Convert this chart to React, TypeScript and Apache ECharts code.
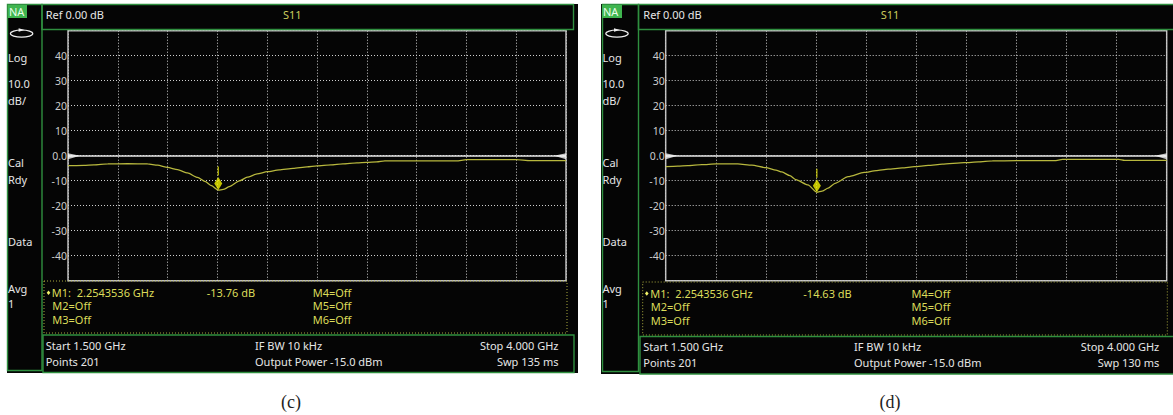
import React, { useEffect, useRef } from 'react';
import * as echarts from 'echarts';

// ---- axis ranges ----
const freqStartGHz = 1.5;
const freqStopGHz = 4.0;
const freqDivGHz = 0.25;
const dbMin = -50;
const dbMax = 50;
const dbDiv = 10;

// ---- panel (c) trace ----
const freqC = [1.5, 1.58, 1.63, 1.7, 1.8, 1.9, 1.95, 2.0, 2.05, 2.1, 2.15, 2.19, 2.22, 2.2543536, 2.28, 2.31, 2.36, 2.4, 2.45, 2.5, 2.56, 2.63, 2.7, 2.75, 2.82, 2.88, 2.95, 3.0, 3.05, 3.09, 3.25, 3.45, 3.5, 3.75, 3.82, 4.0];
const s11C = [-4.0, -3.9, -3.7, -3.3, -3.2, -3.3, -3.8, -4.7, -5.6, -6.9, -8.7, -10.4, -12.0, -13.76, -13.5, -12.4, -10.1, -8.6, -7.3, -6.4, -5.7, -5.1, -4.5, -4.1, -3.7, -3.3, -2.9, -2.7, -2.5, -2.1, -2.1, -2.1, -1.6, -1.6, -2.0, -2.0];

// ---- panel (d) trace ----
const freqD = [1.5, 1.56, 1.61, 1.68, 1.75, 1.86, 1.93, 2.0, 2.05, 2.08, 2.12, 2.15, 2.21, 2.2543536, 2.28, 2.31, 2.345, 2.41, 2.49, 2.55, 2.61, 2.68, 2.74, 2.81, 2.88, 2.99, 3.06, 3.13, 3.25, 3.44, 3.48, 3.76, 3.79, 4.0];
const s11D = [-4.4, -4.2, -4.0, -3.6, -3.3, -3.3, -3.8, -4.8, -5.8, -6.5, -8.0, -9.6, -11.7, -14.63, -14.2, -13.0, -11.1, -8.4, -6.7, -6.0, -5.4, -4.9, -4.4, -3.9, -3.4, -2.8, -2.5, -2.1, -2.0, -2.0, -1.5, -1.5, -1.9, -1.9];

// ---- marker & annotation values ----
const markerFreqGHz = 2.2543536;
const markerDb = [-13.76, -14.63];
const sweepMs = [135, 130];
const captions = ['(c)', '(d)'];
const sidebarLabels = ['Log', '10.0', 'dB/', 'Cal', 'Rdy', 'Data', 'Avg', '1'];
const markersOffLeft = ['M2=Off', 'M3=Off'];
const markersOffRight = ['M4=Off', 'M5=Off', 'M6=Off'];
const refText = 'Ref 0.00 dB';
const paramText = 'S11';
const pointsCount = 201;
const ifbwText = 'IF BW 10 kHz';
const powerText = 'Output Power -15.0 dBm';

const traces = [
  { freq: freqC, s11: s11C },
  { freq: freqD, s11: s11D },
];

// ---- layout (pixels) ----
const FONT = '"Noto Sans", "DejaVu Sans", sans-serif';
const GREEN = '#2f8f3f';
const YELLOW = '#dcdc5a';
const WHITE = '#e6e6e6';
const sidebarY = [57, 83, 100, 162.3, 179, 241, 288.3, 303.3];

const layout = [
  {
    bg: [7, 4, 571, 369], side: [7.5, 4.5, 34.5, 366], na: [8, 5, 19, 13], top: [42, 4.5, 531.5, 25],
    bottom: [43, 335, 531, 37.5], mbox: [44, 281, 523, 52], textX: 45.7, sideX: 8, iconX: 21.6,
    plotL: 68, plotW: 498, mY: [292.7, 305.5, 319], bY: [345, 361], stopX: 558.5, ifX: 255,
    bulletX: 48.5, m1X: 51.7, m1dbX: 206.7, m4X: 312.7, s11X: 283, capX: 291,
  },
  {
    bg: [601, 4, 572, 370], side: [602.5, 4.5, 36, 367], na: [602, 5, 20, 13], top: [638.5, 4.5, 540, 25],
    bottom: [640, 336.5, 540, 37.5], mbox: [642.7, 282, 524.6, 53], textX: 643.3, sideX: 602.5, iconX: 617,
    plotL: 665.7, plotW: 501, mY: [293.5, 306.7, 320.5], bY: [346.5, 362], stopX: 1159.3, ifX: 854,
    bulletX: 646.8, m1X: 650.2, m1dbX: 803.3, m4X: 911.5, s11X: 880.7, capX: 890,
  },
];

const rect = (r: number[], style: any, z = 1) => ({
  type: 'rect', silent: true, z, shape: { x: r[0], y: r[1], width: r[2], height: r[3] }, style,
});
const txt = (x: number, y: number, text: string, fill: string, align = 'left', font = `11px ${FONT}`) => ({
  type: 'text', silent: true, z: 100, x, y,
  style: { text, fill, font, textAlign: align, textVerticalAlign: 'middle', align, verticalAlign: 'middle' },
});

function panelGraphics(i: number) {
  const L = layout[i];
  const els: any[] = [];
  els.push(rect(L.bg, { fill: '#050505' }, -20));
  els.push(rect(L.side, { fill: 'none', stroke: GREEN, lineWidth: 1.4 }, 2));
  els.push(rect(L.top, { fill: 'none', stroke: GREEN, lineWidth: 1.4 }, 2));
  els.push(rect(L.bottom, { fill: 'none', stroke: GREEN, lineWidth: 1.4 }, 2));
  els.push(rect(L.mbox, { fill: 'none', stroke: '#a9a93e', lineWidth: 1, lineDash: [1, 2] }, 1));
  els.push(rect(L.na, { fill: '#3fb54f' }, 3));
  els.push(txt(L.na[0] + 1, L.na[1] + 6.7, 'NA', '#eaffea'));
  // sweep-direction icon
  els.push({ type: 'ellipse', silent: true, z: 5, shape: { cx: L.iconX, cy: 33.6, rx: 11.2, ry: 3.6 }, style: { fill: 'none', stroke: '#f0f0f0', lineWidth: 1.2 } });
  els.push({ type: 'polygon', silent: true, z: 6, shape: { points: [[L.iconX - 3, 28.2], [L.iconX + 3, 30], [L.iconX - 3, 31.8]] }, style: { fill: '#f0f0f0' } });
  sidebarLabels.forEach((s, k) => els.push(txt(L.sideX, sidebarY[k], s, WHITE)));
  els.push(txt(L.textX, 14.5, refText, WHITE));
  els.push(txt(L.s11X, 14.5, paramText, '#cccc5c'));
  // marker table
  const by = L.mY[0];
  els.push({ type: 'polygon', silent: true, z: 6, shape: { points: [[L.bulletX, by - 2.3], [L.bulletX + 1.8, by], [L.bulletX, by + 2.3], [L.bulletX - 1.8, by]] }, style: { fill: '#f4f46a' } });
  els.push(txt(L.m1X, L.mY[0], `M1:  ${markerFreqGHz.toFixed(7)} GHz`, YELLOW));
  els.push(txt(L.m1dbX, L.mY[0], `${markerDb[i].toFixed(2)} dB`, YELLOW));
  markersOffLeft.forEach((s, k) => els.push(txt(L.m1X + 0.6, L.mY[k + 1], s, YELLOW)));
  markersOffRight.forEach((s, k) => els.push(txt(L.m4X, L.mY[k], s, YELLOW)));
  // bottom status bar
  els.push(txt(L.textX, L.bY[0], `Start ${freqStartGHz.toFixed(3)} GHz`, WHITE));
  els.push(txt(L.textX, L.bY[1], `Points ${pointsCount}`, WHITE));
  els.push(txt(L.ifX, L.bY[0], ifbwText, WHITE));
  els.push(txt(L.ifX, L.bY[1], powerText, WHITE));
  els.push(txt(L.stopX, L.bY[0], `Stop ${freqStopGHz.toFixed(3)} GHz`, WHITE, 'right'));
  els.push(txt(L.stopX, L.bY[1], `Swp ${sweepMs[i]} ms`, WHITE, 'right'));
  els.push(txt(L.capX, 402, captions[i], '#1e1e1e', 'center', '18px "Liberation Serif", "DejaVu Serif", serif'));
  return els;
}

const splitStyle = { show: true, lineStyle: { color: '#cfcfcf', type: [1, 2], width: 1 } };

function buildOption(): any {
  return {
    animation: false,
    backgroundColor: '#ffffff',
    grid: layout.map((L) => ({
      left: L.plotL, top: 30.7, width: L.plotW, height: 250,
      show: true, borderColor: '#bdbdbd', borderWidth: 1.5, backgroundColor: 'transparent',
    })),
    xAxis: layout.map((_, i) => ({
      type: 'value', gridIndex: i, min: freqStartGHz, max: freqStopGHz, interval: freqDivGHz,
      axisLabel: { show: false }, axisTick: { show: false }, axisLine: { show: false }, splitLine: splitStyle,
    })),
    yAxis: layout.map((_, i) => ({
      type: 'value', gridIndex: i, min: dbMin, max: dbMax, interval: dbDiv,
      axisTick: { show: false }, axisLine: { show: false }, splitLine: splitStyle,
      axisLabel: {
        color: '#cccccc', fontSize: 10.5, fontFamily: FONT, margin: 1,
        formatter: (v: number) => (v === 0 ? '0.0' : v === dbMin || v === dbMax ? '' : String(v)),
      },
    })),
    series: traces.flatMap((t, i) => [
      {
        type: 'line', xAxisIndex: i, yAxisIndex: i, z: 3,
        data: t.freq.map((f, k) => [f, t.s11[k]]),
        showSymbol: false, symbol: 'none', smooth: 0.2, smoothMonotone: 'x',
        lineStyle: { color: '#b8b83e', width: 1.3 },
        markLine: {
          silent: true, symbol: 'none', label: { show: false },
          lineStyle: { color: '#e4e4e4', width: 1.5, type: 'solid' },
          data: [{ yAxis: 0 }],
        },
      },
      {
        type: 'scatter', xAxisIndex: i, yAxisIndex: i, z: 5, silent: true,
        itemStyle: { color: '#f2f200' },
        data: [
          { value: [markerFreqGHz, markerDb[i]], symbol: 'diamond', symbolSize: [8, 13], symbolOffset: [0, -6.5] },
          { value: [markerFreqGHz, markerDb[i]], symbol: 'rect', symbolSize: [1.2, 9], symbolOffset: [0, -19] },
        ],
      },
      {
        type: 'scatter', xAxisIndex: i, yAxisIndex: i, z: 6, silent: true,
        itemStyle: { color: '#f4f4f4' },
        data: [
          { value: [freqStartGHz, 0], symbol: 'path://M0,0 L12,2.5 L0,6 Z', symbolSize: [12, 6], symbolOffset: [6, 0.5] },
          { value: [freqStopGHz, 0], symbol: 'path://M12,0 L0,2.5 L12,6 Z', symbolSize: [12, 6], symbolOffset: [-6, 0.5] },
        ],
      },
    ]),
    graphic: { elements: [...panelGraphics(0), ...panelGraphics(1)] },
  };
}

export default function App() {
  const ref = useRef<HTMLDivElement>(null);
  useEffect(() => {
    document.body.style.margin = '0';
    if (!ref.current) return;
    const chart = echarts.init(ref.current, null, { renderer: 'svg' });
    chart.setOption(buildOption());
    return () => chart.dispose();
  }, []);
  return <div ref={ref} style={{ width: 1173, height: 415 }} />;
}
